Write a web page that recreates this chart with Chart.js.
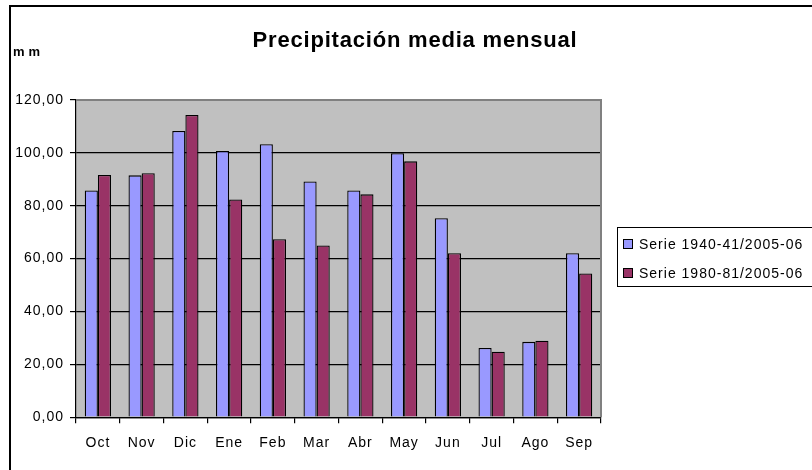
<!DOCTYPE html>
<html>
<head>
    <meta charset="utf-8">
    <title>Precipitación media mensual</title>
    <script src="https://cdn.jsdelivr.net/npm/chart.js"></script>
    <style>
        body {
            margin: 0;
            background: white;
        }
        .chart-container {
            width: 812px;
            height: 470px;
        }
    </style>
</head>
<body>
    <div class="chart-container">
        <canvas id="rainChart"></canvas>
    </div>

    <script>
        const months = ['Oct', 'Nov', 'Dic', 'Ene', 'Feb', 'Mar', 'Abr', 'May', 'Jun', 'Jul', 'Ago', 'Sep'];
        const serie1940 = [85.8, 91.5, 108.3, 100.7, 103.3, 89.2, 85.8, 99.9, 75.3, 26.2, 28.5, 62.0];
        const serie1980 = [91.6, 92.3, 114.3, 82.4, 67.3, 65.0, 84.3, 96.8, 62.0, 24.8, 28.9, 54.4];
        const seriesNames = ['Serie 1940-41/2005-06', 'Serie 1980-81/2005-06'];
        const yTicks = [0, 20, 40, 60, 80, 100, 120];

        const blue = '#9999FF';
        const wine = '#993366';
        const fontFamily = '"Liberation Sans", Arial, sans-serif';

        // the old Excel text is spaced out a bit
        const spacing = {
            id: 'spacing',
            beforeUpdate(chart) { chart.ctx.letterSpacing = '1px'; },
            beforeDraw(chart) { chart.ctx.letterSpacing = '1px'; }
        };

        // plot background, outer frame, title, unit label and legend
        const decorations = {
            id: 'decorations',
            beforeDraw(chart) {
                const ctx = chart.ctx;
                const a = chart.chartArea;
                ctx.save();
                ctx.fillStyle = '#C0C0C0';
                ctx.fillRect(a.left, a.top, a.right - a.left, a.bottom - a.top);
                ctx.restore();
            },
            afterDraw(chart) {
                const ctx = chart.ctx;
                const a = chart.chartArea;
                ctx.save();

                // plot border top/right in gray
                ctx.strokeStyle = '#808080';
                ctx.lineWidth = 2;
                ctx.beginPath();
                ctx.moveTo(a.left, a.top);
                ctx.lineTo(a.right, a.top);
                ctx.lineTo(a.right, a.bottom);
                ctx.stroke();

                // outer frame
                ctx.strokeStyle = '#000';
                ctx.lineWidth = 2;
                ctx.beginPath();
                ctx.moveTo(10, 470);
                ctx.lineTo(10, 6);
                ctx.lineTo(812, 6);
                ctx.stroke();

                // title
                ctx.fillStyle = '#000';
                ctx.letterSpacing = '0.8px';
                ctx.font = 'bold 22px ' + fontFamily;
                ctx.textAlign = 'center';
                ctx.textBaseline = 'middle';
                ctx.fillText('Precipitación media mensual', 415, 41);

                // unit
                ctx.letterSpacing = '4px';
                ctx.font = 'bold 13px ' + fontFamily;
                ctx.textAlign = 'left';
                ctx.fillText('mm', 13, 52);

                // legend
                ctx.letterSpacing = '1px';
                const lx = 617, ly = 227, lw = 200, lh = 59;
                ctx.fillStyle = '#fff';
                ctx.fillRect(lx, ly, lw, lh);
                ctx.strokeStyle = '#000';
                ctx.lineWidth = 1;
                ctx.strokeRect(lx + 0.5, ly + 0.5, lw, lh);
                const colors = [blue, wine];
                ctx.font = '14px ' + fontFamily;
                seriesNames.forEach((name, i) => {
                    const y = ly + 17 + i * 29;
                    ctx.fillStyle = colors[i];
                    ctx.fillRect(lx + 7, y - 4, 8, 8);
                    ctx.strokeStyle = '#000';
                    ctx.strokeRect(lx + 6.5, y - 4.5, 9, 9);
                    ctx.fillStyle = '#000';
                    ctx.textAlign = 'left';
                    ctx.fillText(name, lx + 22, y + 1);
                });
                ctx.restore();
            }
        };

        new Chart(document.getElementById('rainChart'), {
            type: 'bar',
            data: {
                labels: months,
                datasets: [
                    {
                        label: seriesNames[0],
                        data: serie1940,
                        backgroundColor: blue,
                        borderColor: '#000',
                        borderWidth: 1.3,
                        barPercentage: 1,
                        categoryPercentage: 0.6
                    },
                    {
                        label: seriesNames[1],
                        data: serie1980,
                        backgroundColor: wine,
                        borderColor: '#000',
                        borderWidth: 1.3,
                        barPercentage: 1,
                        categoryPercentage: 0.6
                    }
                ]
            },
            options: {
                responsive: true,
                maintainAspectRatio: false,
                animation: false,
                layout: {
                    padding: { left: 16, top: 100, right: 211, bottom: 6 }
                },
                plugins: {
                    legend: { display: false },
                    title: { display: false },
                    tooltip: { enabled: false }
                },
                scales: {
                    x: {
                        grid: {
                            display: true,
                            drawOnChartArea: false,
                            color: '#000',
                            tickLength: 6,
                            lineWidth: 1.2
                        },
                        border: { color: '#000', width: 1.2 },
                        ticks: {
                            color: '#000',
                            padding: 12,
                            font: { family: fontFamily, size: 14 }
                        }
                    },
                    y: {
                        min: 0,
                        max: 120,
                        afterFit(scale) { scale.width = 60; },
                        afterBuildTicks(scale) {
                            scale.ticks = yTicks.map(v => ({ value: v }));
                        },
                        grid: {
                            color: '#000',
                            tickLength: 6,
                            lineWidth: 1.2
                        },
                        border: { color: '#000', width: 1.2 },
                        ticks: {
                            color: '#000',
                            padding: 6,
                            font: { family: fontFamily, size: 14 },
                            callback: (v) => v.toFixed(2).replace('.', ',')
                        }
                    }
                }
            },
            plugins: [spacing, decorations]
        });
    </script>
</body>
</html>
